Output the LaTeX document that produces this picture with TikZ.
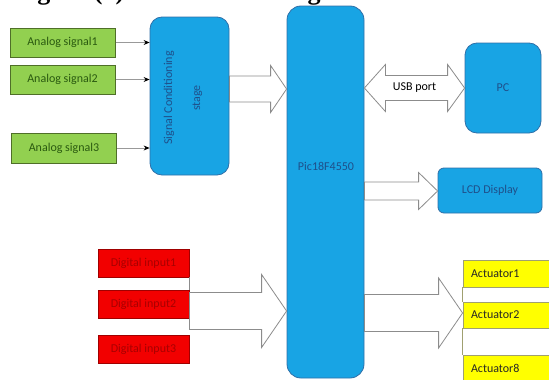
\documentclass[tikz,border=0pt]{standalone}
\usepackage{fontspec}
\setmainfont{Carlito}
\newfontfamily\capfont{Liberation Serif}
\usetikzlibrary{calc,arrows.meta}
\definecolor{blu}{HTML}{18A4E4}
\definecolor{bluedge}{HTML}{2F6FA8}
\definecolor{bluetext}{HTML}{1F4F8A}
\definecolor{grn}{HTML}{92D050}
\definecolor{grnedge}{HTML}{4F6F28}
\definecolor{grntext}{HTML}{2A5A10}
\definecolor{rd}{HTML}{F20000}
\definecolor{rdedge}{HTML}{A00000}
\definecolor{rdtext}{HTML}{A80000}
\definecolor{yel}{HTML}{FFFF00}
\definecolor{yeledge}{HTML}{A0A070}
\definecolor{arrowedge}{HTML}{8C8C8C}
\newcommand\hollowarrow[5]{%
  \draw[hollow] ($(#1)+(0,-#3)$) -- ($(#2)+(-#5,-#3)$) -- ($(#2)+(-#5,-#4)$) -- (#2)
    -- ($(#2)+(-#5,#4)$) -- ($(#2)+(-#5,#3)$) -- ($(#1)+(0,#3)$) -- cycle;}
\begin{document}
\begin{tikzpicture}[x=1pt,y=-1pt,
  font=\fontsize{12}{14}\selectfont,
  anbox/.style={draw=grnedge, line width=1pt, fill=grn, text=grntext, minimum width=105pt, minimum height=29pt, inner sep=0pt},
  bluebox/.style={draw=bluedge, line width=0.8pt, fill=blu, text=bluetext, inner sep=0pt},
  digbox/.style={draw=rdedge, line width=0.8pt, fill=rd, text=rdtext, minimum width=91pt, minimum height=28pt, inner sep=0pt},
  actbox/.style={draw=yeledge, line width=0.8pt, fill=yel, text=black!85, text width=81pt, inner xsep=8pt, inner ysep=0pt, align=left, minimum height=27pt},
  hollow/.style={draw=arrowedge, line width=0.8pt, fill=white},
  sigarrow/.style={draw=gray!80, line width=0.8pt, -{Stealth[length=6pt,width=5pt,black]}}
]
\useasboundingbox (0,0) rectangle (549,380);
\clip (0,0) rectangle (549,380);

% caption (cut at top edge)
\node[anchor=base west, inner sep=0pt, font=\capfont\bfseries\fontsize{26}{28}\selectfont] (cap) at (14,-0.5) {Figure (1): USB Block Diagram};

% analog inputs
\node[anbox] (a1) at (62.5,42.5) {Analog signal1};
\node[anbox] (a2) at (62.5,79.5) {Analog signal2};
\node[anbox, minimum height=30pt] (a3) at (64,148) {Analog signal3};

% blue blocks
\node[bluebox, rounded corners=12pt, minimum width=79pt, minimum height=158pt] (sc) at (189.5,96) {};
\node[rotate=90, align=center, text=bluetext, inner sep=0pt] (sctext) at (183,98) {Signal Conditioning\\[14pt]stage};
\node[bluebox, rounded corners=14pt, minimum width=77pt, minimum height=372pt] (pic) at (325.5,192) {};
\node[text=bluetext, inner sep=0pt] (pictext) at (326,166) {Pic18F4550};
\node[bluebox, rounded corners=12pt, minimum width=76pt, minimum height=90pt] (pc) at (503,88) {PC};
\node[bluebox, rounded corners=6pt, minimum width=104pt, minimum height=45pt] (lcd) at (490,190.5) {LCD Display};

% digital inputs
\node[digbox] (d1) at (143.5,263) {Digital input1};
\node[digbox] (d2) at (143.5,304) {Digital input2};
\node[digbox] (d3) at (143.5,349) {Digital input3};

% actuators
\node[actbox] (act1) at (511.5,273.5) {Actuator1};
\node[actbox, minimum height=26pt] (act2) at (511.5,315) {Actuator2};
\node[actbox] (act8) at (511.5,368.5) {Actuator8};
\draw[draw=yeledge, line width=0.8pt] (act1.south west) -- (act2.north west);
\draw[draw=yeledge, line width=0.8pt] (act2.south west) -- (act8.north west);

% analog arrows
\draw[sigarrow] (a1.east) -- (a1.east -| sc.west);
\draw[sigarrow] (a2.east) -- (a2.east -| sc.west);
\draw[sigarrow] (a3.east) -- (a3.east -| sc.west);

% hollow arrows
\coordinate (s1) at (sc.east |- 0,89);
\coordinate (e1) at (pic.west |- 0,89);
\hollowarrow{s1}{e1}{13}{23.5}{16}

\coordinate (s2) at (pic.east |- 0,191);
\coordinate (e2) at (lcd.west |- 0,191);
\hollowarrow{s2}{e2}{9}{18.5}{19}

\coordinate (s3) at (pic.east |- 0,313);
\coordinate (e3) at (act2.west |- 0,313);
\hollowarrow{s3}{e3}{18.5}{35}{24}

\coordinate (s4) at (d2.east |- 0,311);
\coordinate (e4) at (pic.west |- 0,311);
\hollowarrow{s4}{e4}{18.5}{36.5}{25}
\draw[draw=arrowedge, line width=0.8pt] (d1.south east) -- (d2.north east);

% USB double arrow
\coordinate (u1) at (pic.east |- 0,88);
\coordinate (u2) at (pc.west |- 0,88);
\draw[hollow] (u1) -- ($(u1)+(21,-23.5)$) -- ($(u1)+(21,-12.5)$) -- ($(u2)+(-17,-12.5)$) -- ($(u2)+(-17,-23.5)$) -- (u2)
  -- ($(u2)+(-17,23.5)$) -- ($(u2)+(-17,12.5)$) -- ($(u1)+(21,12.5)$) -- ($(u1)+(21,23.5)$) -- cycle;
\node[inner sep=0pt, text=black] (usb) at ($(u1)!0.5!(u2)$) {USB port};
\end{tikzpicture}
\end{document}
